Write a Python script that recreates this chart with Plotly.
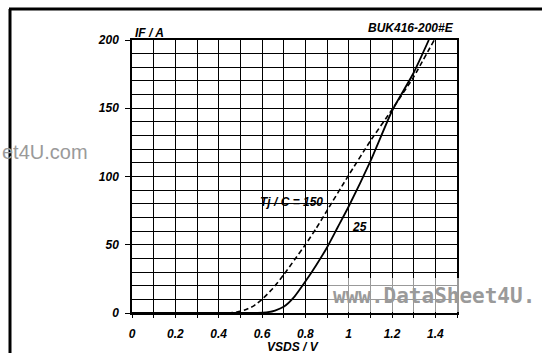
import plotly.graph_objects as go

# Tj = 150 C (dashed)
v_150 = [0.0, 0.44, 0.48, 0.52, 0.56, 0.60, 0.65, 0.70, 0.75, 0.80, 0.85, 0.90, 1.00, 1.10, 1.20, 1.30, 1.395]
i_150 = [0.0, 0.0, 0.6, 2.2, 5.0, 10.0, 18.0, 28.0, 39.0, 50.0, 62.0, 75.0, 101.0, 126.0, 149.0, 173.0, 200.0]
# Tj = 25 C (solid)
v_25 = [0.0, 0.58, 0.62, 0.66, 0.70, 0.75, 0.80, 0.85, 0.90, 0.95, 1.00, 1.10, 1.20, 1.30, 1.37]
i_25 = [0.0, 0.0, 0.4, 1.8, 4.5, 12.0, 23.0, 35.0, 48.0, 63.0, 78.0, 111.0, 148.0, 176.0, 200.0]

x_range = [0, 1.5]
y_range = [0, 200]

FONT = "Liberation Sans"
lab = dict(family=FONT, size=12, color="black", weight="bold", style="italic")

fig = go.Figure()
fig.add_trace(go.Scatter(x=v_150, y=i_150, mode="lines", line=dict(color="black", width=1.6, dash="5px,3px", shape="spline", smoothing=0.5), showlegend=False))
fig.add_trace(go.Scatter(x=v_25, y=i_25, mode="lines", line=dict(color="black", width=1.8, shape="spline", smoothing=0.5), showlegend=False))

axis_common = dict(showline=True, linecolor="black", linewidth=1.5, mirror=True,
                   showgrid=True, gridcolor="black", gridwidth=1.3, zeroline=False,
                   tickfont=lab, tickcolor="black")
fig.update_xaxes(range=x_range, tickmode="linear", tick0=0, dtick=0.2,
                 minor=dict(dtick=0.1, showgrid=True, gridcolor="black", gridwidth=1.3, ticks="outside", ticklen=3, tickcolor="black"),
                 ticks="outside", ticklen=3, ticklabelstandoff=6, **axis_common)
fig.update_yaxes(range=y_range, tickmode="linear", tick0=0, dtick=50,
                 minor=dict(dtick=10, showgrid=True, gridcolor="black", gridwidth=1.3),
                 ticks="outside", ticklen=5, ticklabelstandoff=4, **axis_common)

L, R, T, B = 132, 85, 40, 40
W, H = 542, 353
pw, ph = W - L - R, H - T - B

def px(xp):
    return (xp - L) / pw

def py(yp):
    return (H - B - yp) / ph

annotations = [
    dict(text="IF / A", x=px(133), y=py(33), xref="paper", yref="paper", xanchor="left", yanchor="middle", showarrow=False, font=lab),
    dict(text="BUK416-200#E", x=px(456), y=py(28), xref="paper", yref="paper", xanchor="right", yanchor="middle", showarrow=False, font=lab),
    dict(text="VSDS / V", x=px(293), y=py(347), xref="paper", yref="paper", xanchor="center", yanchor="middle", showarrow=False, font=lab),
    dict(text="Tj / C = 150", x=0.734, y=81, xref="x", yref="y", xanchor="center", yanchor="middle", showarrow=False, font=lab),
    dict(text="25", x=1.048, y=63, xref="x", yref="y", xanchor="center", yanchor="middle", showarrow=False, font=lab),
    dict(text="et4U.com", x=px(0), y=py(152), xref="paper", yref="paper", xanchor="left", yanchor="middle", showarrow=False,
         font=dict(family=FONT, size=20, color="#9a9a9a")),
    dict(text="www.DataSheet4U.", x=px(331), y=py(296), xref="paper", yref="paper", xanchor="left", yanchor="middle", showarrow=False,
         font=dict(family="DejaVu Sans Mono", size=21, color="#9a9a9a", weight="bold")),
]

shapes = [
    dict(type="rect", xref="paper", yref="paper", x0=px(328), x1=px(560), y0=py(312), y1=py(278), fillcolor="rgba(255,255,255,0.6)", line=dict(width=0), layer="above"),
    dict(type="line", xref="paper", yref="paper", x0=px(10), x1=px(10), y0=py(9), y1=py(370), line=dict(color="black", width=3)),
    dict(type="line", xref="paper", yref="paper", x0=px(9), x1=px(560), y0=py(9), y1=py(9), line=dict(color="black", width=3)),
]

fig.update_layout(width=W, height=H, margin=dict(l=L, r=R, t=T, b=B),
                  paper_bgcolor="white", plot_bgcolor="white",
                  annotations=annotations, shapes=shapes, showlegend=False)

fig.write_html("out.html")
